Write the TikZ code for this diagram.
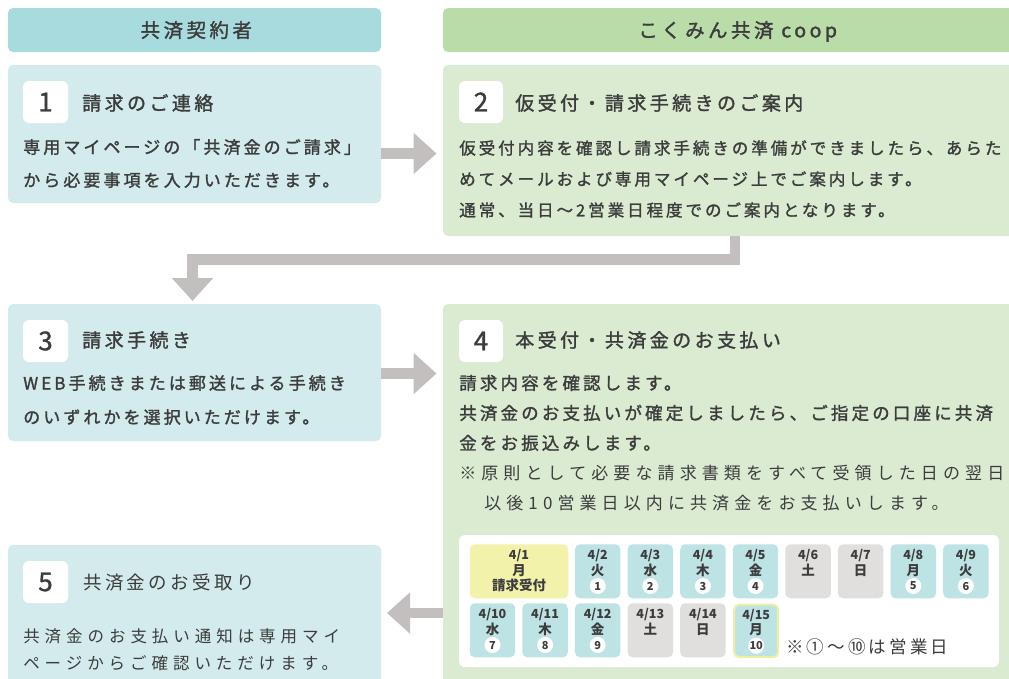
\documentclass[tikz,border=0pt]{standalone}
\usepackage{fontspec}
\setmainfont{Noto Sans CJK JP}
\newfontfamily\jpA[LetterSpace=18]{Noto Sans CJK JP}
\newfontfamily\jpM[LetterSpace=18,FakeBold=1.5]{Noto Sans CJK JP}
\newfontfamily\jpD[FakeBold=1.2]{Noto Sans CJK JP}
\newfontfamily\jpB[LetterSpace=30]{Noto Sans CJK JP}
\usetikzlibrary{arrows.meta,fit,calc}
\definecolor{hdrteal}{HTML}{A8DBDE}
\definecolor{hdrgreen}{HTML}{B9DCA8}
\definecolor{boxteal}{HTML}{D3EBEC}
\definecolor{boxgreen}{HTML}{DAEBD1}
\definecolor{arrowgray}{HTML}{C3BFBF}
\definecolor{cellteal}{HTML}{BEE3E5}
\definecolor{cellgray}{HTML}{E1DFDE}
\definecolor{cellyellow}{HTML}{F3F2AB}
\definecolor{yborder}{HTML}{EEF0A0}
\definecolor{txt}{HTML}{3C3C3C}
\newcommand{\kmHdr}{\jpM\fontsize{14.6pt}{17pt}\selectfont}
\newcommand{\kmTitle}{\jpM\fontsize{14.25pt}{17pt}\selectfont}
\newcommand{\kmBody}{\jpM\fontsize{12.75pt}{15pt}\selectfont}
\newcommand{\kmBodyS}{\jpM\fontsize{12.375pt}{15pt}\selectfont}
\newcommand{\kmBodyL}{\jpM\fontsize{13.125pt}{15pt}\selectfont}
\newcommand{\kmNote}{\jpB\fontsize{12.75pt}{15pt}\selectfont}
\newcommand{\kmFive}{\jpB\fontsize{12.375pt}{15pt}\selectfont}
\newcommand{\kcell}[7]{%
  \node[#4, anchor=north west] (#1) at (#2,#3) {};
  \node[cdate] (#1d) at ($(#1.north)+(0,15.6)$) {#5};
  \node[cday] (#1w) at ($(#1.north)+(0,31)$) {#6};
  \if\relax\detokenize{#7}\relax\else
  \node[cnum] (#1n) at ($(#1.north)+(0,42)$) {#7};\fi
}
\begin{document}
\begin{tikzpicture}[x=0.75pt,y=-0.75pt,
  hdrT/.style={fill=hdrteal, rounded corners=3.75pt, inner sep=0},
  hdrG/.style={fill=hdrgreen, rounded corners=3.75pt, inner sep=0},
  hdrtext/.style={anchor=base, inner sep=0, text=txt, font=\kmHdr},
  boxT/.style={fill=boxteal, rounded corners=3.75pt, inner sep=0},
  boxG/.style={fill=boxgreen, rounded corners=3.75pt, inner sep=0},
  badge/.style={fill=white, rounded corners=4.5pt, inner sep=0},
  badgenum/.style={anchor=center, inner sep=0, text=txt,
    font=\jpD\fontsize{19.5pt}{20pt}\selectfont},
  tl/.style={anchor=base west, inner sep=0, text=txt},
  bigarrow/.style={draw=arrowgray, line width=8pt,
    -{Triangle[length=17.25pt,width=30pt]}},
  cbase/.style={rounded corners=3.75pt, inner sep=0, minimum width=34.1pt, minimum height=40.5pt},
  cT/.style={cbase, fill=cellteal},
  cG/.style={cbase, fill=cellgray},
  cY/.style={cbase, fill=cellyellow, minimum width=73.9pt},
  cTY/.style={cbase, fill=cellteal, draw=yborder, line width=1.5pt, minimum width=33pt, minimum height=39.4pt},
  cdate/.style={anchor=base, inner sep=0, text=txt, font=\bfseries\fontsize{9.4pt}{10pt}\selectfont},
  cday/.style={anchor=base, inner sep=0, text=txt, font=\bfseries\fontsize{10.1pt}{11pt}\selectfont},
  cnum/.style={circle, fill=white, inner sep=0, minimum size=12pt, text=txt,
    font=\bfseries\fontsize{8.25pt}{9pt}\selectfont}
]
\useasboundingbox (0,0) rectangle (1009,678);
\clip (0,0) rectangle (1009,678);

% headers
\node[hdrT, fit={(8,8) (381,52)}] (h1) {};
\node[hdrG, fit={(443,8) (1030,52)}] (h2) {};
\node[hdrtext] (h1t) at (196.3,37.4) {共済契約者};
\node[hdrtext] (h2t) at (737.7,37.4) {こくみん共済 coop};

% boxes
\node[boxT, fit={(8,65) (381,203)}] (b1) {};
\node[boxG, fit={(443,65) (1030,236)}] (b2) {};
\node[boxT, fit={(8,304) (381,441)}] (b3) {};
\node[boxG, fit={(443,304) (1030,700)}] (b4) {};
\node[boxT, fit={(8,545) (381,700)}] (b5) {};

% badges
\node[badge, fit={(23,81) (68,123)}] (n1) {};
\node[badge, fit={(459,81) (503,123)}] (n2) {};
\node[badge, fit={(23,320) (68,362)}] (n3) {};
\node[badge, fit={(459,320) (503,362)}] (n4) {};
\node[badge, fit={(23,561) (68,603)}] (n5) {};
\node[badgenum] (n1t) at (n1.center) {1};
\node[badgenum] (n2t) at (n2.center) {2};
\node[badgenum] (n3t) at (n3.center) {3};
\node[badgenum] (n4t) at (n4.center) {4};
\node[badgenum] (n5t) at (n5.center) {5};

% box 1
\node[tl, font=\kmTitle] (t1) at (82,110.2) {請求のご連絡};
\node[tl, font=\kmBody] (b1a) at (23,153.5) {専用マイページの「共済金のご請求」};
\node[tl, font=\kmBody] (b1b) at (23,186.5) {から必要事項を入力いただきます。};

% box 2
\node[tl, font=\kmTitle] (t2) at (515,110.2) {仮受付・請求手続きのご案内};
\node[tl, font=\kmBodyS] (b2a) at (459,154.3) {仮受付内容を確認し請求手続きの準備ができましたら、あらた};
\node[tl, font=\kmBodyS] (b2b) at (459,185.3) {めてメールおよび専用マイページ上でご案内します。};
\node[tl, font=\kmBodyS] (b2c) at (459,216.3) {通常、当日～2営業日程度でのご案内となります。};

% box 3
\node[tl, font=\kmTitle] (t3) at (82,347.2) {請求手続き};
\node[tl, font=\kmBody] (b3a) at (23,389.5) {WEB手続きまたは郵送による手続き};
\node[tl, font=\kmBody] (b3b) at (23,423.5) {のいずれかを選択いただけます。};

% box 4
\node[tl, font=\kmTitle] (t4) at (515,347.2) {本受付・共済金のお支払い};
\node[tl, font=\kmBodyL] (b4a) at (459,389.6) {請求内容を確認します。};
\node[tl, font=\kmBodyL] (b4b) at (459,419.6) {共済金のお支払いが確定しましたら、ご指定の口座に共済};
\node[tl, font=\kmBodyL] (b4c) at (459,449.6) {金をお振込みします。};
\node[tl, font=\kmNote] (b4d) at (459,479.5) {※原則として必要な請求書類をすべて受領した日の翌日};
\node[tl, font=\kmNote] (b4e) at (484,509.5) {以後10営業日以内に共済金をお支払いします。};

% box 5
\node[tl, font=\jpA\fontsize{13.875pt}{16pt}\selectfont] (t5) at (83,589) {共済金のお受取り};
\node[tl, font=\kmFive] (b5a) at (23,642.3) {共済金のお支払い通知は専用マイ};
\node[tl, font=\kmFive] (b5b) at (23,669.3) {ページからご確認いただけます。};

% arrows
\coordinate (a12) at (436.5,153.5);
\draw[bigarrow] (b1.east |- a12) -- (a12);
\coordinate (a34) at (436.5,373.5);
\draw[bigarrow] (b3.east |- a34) -- (a34);
\coordinate (a45) at (387,613);
\draw[bigarrow] (b4.west |- a45) -- (a45);
\coordinate (a23k) at (735,259.5);
\coordinate (a23) at (192.5,301);
\draw[bigarrow, line width=7.9pt] (b2.south -| a23k) -- (a23k) -| (a23);

% calendar panel
\node[fill=white, rounded corners=4.5pt, inner sep=0, fit={(459,535) (999,667)}] (cal) {};
\kcell{c1}{469.5}{544}{cY}{4/1}{月}{}
\node[cday] (c1x) at ($(c1.north)+(0,46)$) {請求受付};
\kcell{c2}{574.7}{544}{cT}{4/2}{火}{1}
\kcell{c3}{627.3}{544}{cT}{4/3}{水}{2}
\kcell{c4}{679.9}{544}{cT}{4/4}{木}{3}
\kcell{c5}{732.5}{544}{cT}{4/5}{金}{4}
\kcell{c6}{785.1}{544}{cG}{4/6}{土}{}
\kcell{c7}{837.7}{544}{cG}{4/7}{日}{}
\kcell{c8}{890.3}{544}{cT}{4/8}{月}{5}
\kcell{c9}{942.9}{544}{cT}{4/9}{火}{6}
\kcell{c10}{469.5}{603}{cT}{4/10}{水}{7}
\kcell{c11}{522.1}{603}{cT}{4/11}{木}{8}
\kcell{c12}{574.7}{603}{cT}{4/12}{金}{9}
\kcell{c13}{627.3}{603}{cG}{4/13}{土}{}
\kcell{c14}{679.9}{603}{cG}{4/14}{日}{}
\kcell{c15}{733.2}{603.7}{cTY}{4/15}{月}{10}
\node[tl, font=\jpA\fontsize{13.125pt}{15pt}\selectfont] (calnote) at (786,653.7) {※①～⑩は営業日};
\end{tikzpicture}
\end{document}
